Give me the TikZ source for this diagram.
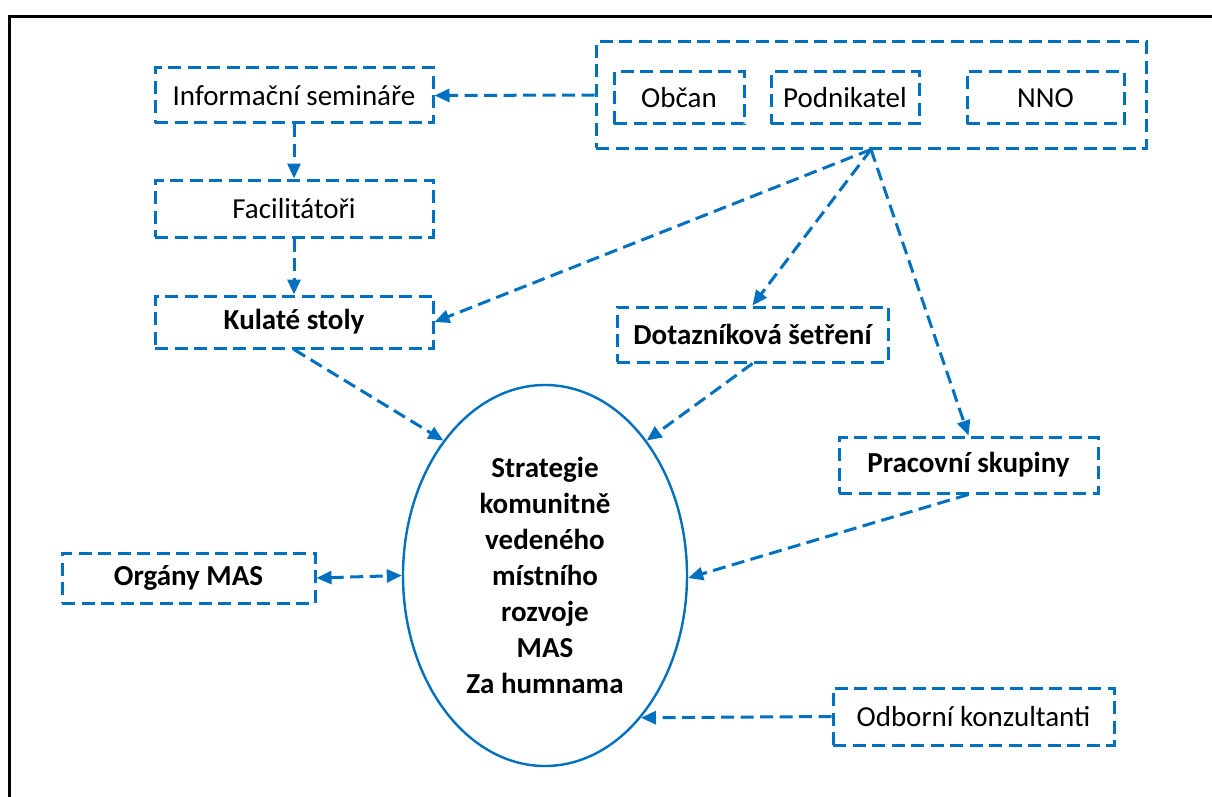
\documentclass[tikz,border=0pt]{standalone}
\usepackage{fontspec}
\setmainfont{Carlito}
\usetikzlibrary{arrows.meta,positioning,shapes.geometric}
\definecolor{masblue}{HTML}{0070C0}
\tikzset{
  box/.style 2 args={
    draw=masblue,
    line width=3pt,
    dash pattern=on 13pt off 6.5pt,
    minimum width=#1pt,
    minimum height=#2pt,
    inner sep=0pt,
    align=center,
    font=\fontsize{29}{34}\selectfont
  },
  boldbox/.style 2 args={
    box={#1}{#2},
    font=\fontsize{29}{34}\selectfont\bfseries
  },
  arr/.style={
    draw=masblue,
    line width=3pt,
    dash pattern=on 13pt off 6.5pt,
    -{Triangle[length=15pt,width=13pt]}
  },
  dblarr/.style={
    arr,
    {Triangle[length=15pt,width=13pt]}-{Triangle[length=15pt,width=13pt]}
  }
}
\begin{document}
\begin{tikzpicture}[x=1pt,y=-1pt]
\useasboundingbox (0,0) rectangle (1212,797);
% frame
\draw[line width=3pt] (9.5,800) -- (9.5,16.5) -- (1215,16.5);

% group of actors
\node[box={550}{106}] (grp) at (871,95) {};
\node[box={130}{52}] (obc) at (679,98) {Občan};
\node[box={148}{52}] (pod) at (845,98) {Podnikatel};
\node[box={157}{52}] (nno) at (1045.5,98) {NNO};

% left column
\node[box={278}{55}] (sem) at (294,95.5) {Informační semináře};
\node[box={278}{57}] (fac) at (294,208.5) {Facilitátoři};
\node[boldbox={278}{52}] (kul) at (294,322) {Kulaté stoly};

% right side
\node[boldbox={271}{55}] (dot) at (752.5,334.5) {Dotazníková šetření};
\node[boldbox={259}{56}] (pra) at (968.5,465) {Pracovní skupiny};
\node[boldbox={253}{50}] (org) at (188.5,578) {Orgány MAS};
\node[box={281}{57}] (odb) at (973.5,716.5) {Odborní konzultanti};

% strategy
\node[draw=masblue,line width=2.4pt,ellipse,
      minimum width=284pt,minimum height=381pt,inner sep=0pt,
      align=center,font=\fontsize{29}{36}\selectfont\bfseries]
  (str) at (545,575.5)
  {Strategie\\komunitně\\vedeného\\místního\\rozvoje\\MAS\\Za humnama};

% arrows
\draw[arr] (grp.west) -- (sem.east);
\draw[arr] (sem.south) -- (fac.north);
\draw[arr] (fac.south) -- (kul.north);
\draw[arr] (grp.south) -- (kul.east);
\draw[arr] (grp.south) -- (dot.north);
\draw[arr] (grp.south) -- (pra.north);

\draw[arr] (kul.south) -- (str.127);
\draw[arr] (dot.south) -- (str.53.5);
\draw[arr] (pra.south) -- (str.-1);
\draw[dblarr] (org.east) -- (str.180);
\draw[arr] (odb.west) -- (str.-56);
\end{tikzpicture}
\end{document}
